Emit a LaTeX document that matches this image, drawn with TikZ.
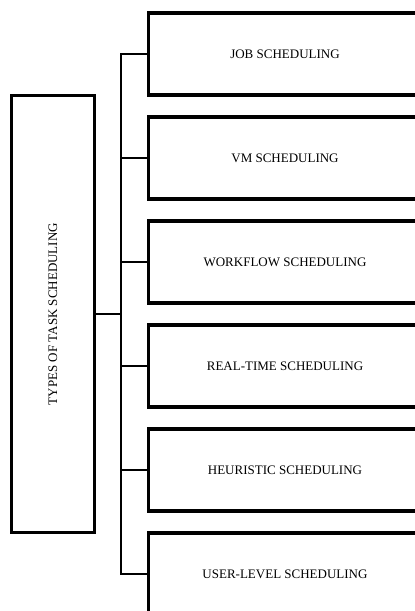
\documentclass[tikz,border=0pt]{standalone}
\usepackage{fontspec}
\setmainfont{Liberation Serif}
\usetikzlibrary{positioning}

\begin{document}
\begin{tikzpicture}[
	x=1pt, y=1pt,
	root/.style={
		draw,
		line width=3.2pt,
		minimum width=83pt,
		minimum height=437pt,
		inner sep=2pt,
		font=\fontsize{13}{15}\selectfont
	},
	kind/.style={
		draw,
		line width=3.2pt,
		minimum width=273pt,
		minimum height=82pt,
		inner sep=2pt,
		font=\fontsize{13}{15}\selectfont
	},
	link/.style={
		line width=2pt
	},
	node distance=18.8pt
	]
	\path[use as bounding box, clip] (0,0) rectangle (415,-611);

	\node[root] at (53,-314) 
	(types) {\rotatebox{90}{TYPES OF TASK SCHEDULING}};

	\node[kind] at (285,-54) 
	(job) {JOB SCHEDULING};
	\node[kind, below=of job] 
	(vm) {VM SCHEDULING};
	\node[kind, below=of vm] 
	(workflow) {WORKFLOW SCHEDULING};
	\node[kind, below=of workflow] 
	(realtime) {REAL-TIME SCHEDULING};
	\node[kind, below=of realtime] 
	(heuristic) {HEURISTIC SCHEDULING};
	\node[kind, below=of heuristic] 
	(user) {USER-LEVEL SCHEDULING};

	\coordinate[left=26pt of job.west] (bustop);
	\coordinate[left=26pt of user.west] (busbot);

	\draw[link] (job.west) -- (bustop) -- (busbot) -- (user.west);
	\draw[link] (types.east) -- (types.east -| bustop);
	\draw[link] (vm.west) -- (vm.west -| bustop);
	\draw[link] (workflow.west) -- (workflow.west -| bustop);
	\draw[link] (realtime.west) -- (realtime.west -| bustop);
	\draw[link] (heuristic.west) -- (heuristic.west -| bustop);

\end{tikzpicture}
\end{document}
